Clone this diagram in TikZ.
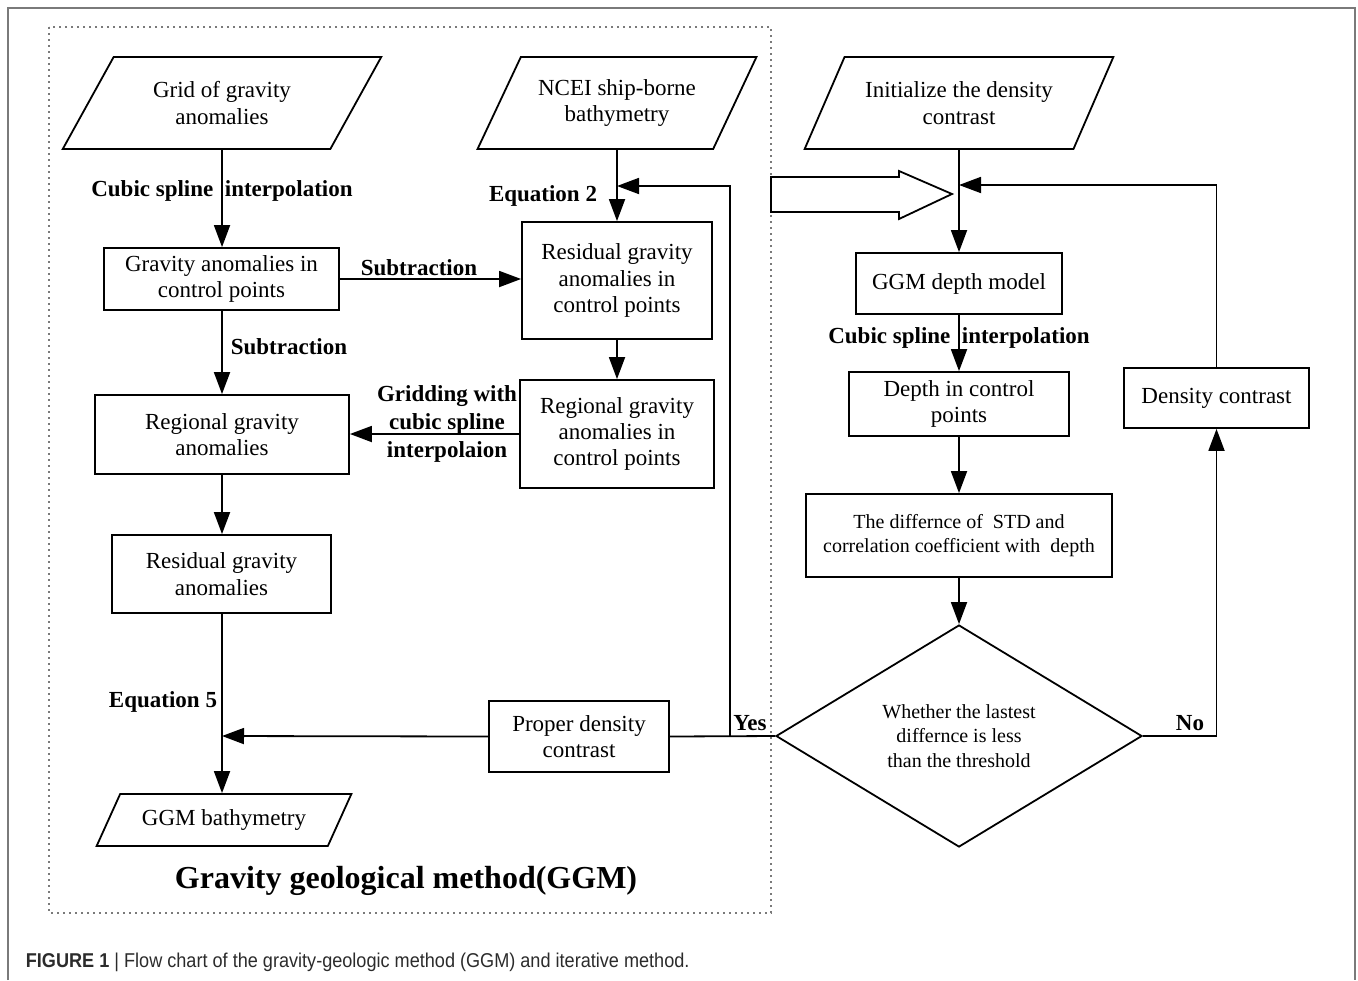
\documentclass[tikz,border=0pt]{standalone}
\usepackage{fontspec}
\setmainfont{Liberation Serif}
\newfontfamily\capfont{Liberation Sans}
\usetikzlibrary{shapes.geometric, arrows.meta}
\definecolor{framegray}{HTML}{7A7A7A}
\definecolor{capgray}{HTML}{2B2B2B}

\begin{document}
\begin{tikzpicture}[
    x=0.5pt, y=-0.5pt,
    >={Triangle[length=11pt,width=8pt]},
    every node/.style={font=\fontsize{11.5}{13.2}\selectfont},
    box/.style={draw, rectangle, align=center, inner sep=2pt},
    data/.style={draw, trapezium, trapezium left angle=56, trapezium right angle=124,
      trapezium stretches=true, align=center, inner sep=2pt},
    lbl/.style={font=\fontsize{11.5}{13.8}\selectfont\bfseries, align=center},
    small/.style={font=\fontsize{10}{12.4}\selectfont},
    line width=0.9pt
  ]
  \useasboundingbox (0,0) rectangle (1358,980);

  % Frame and GGM region
  \draw[framegray, line width=1.1pt] (8,980) -- (8,8) -- (1355,8) -- (1355,980);
  \draw[framegray, dotted, line width=1pt] (49,27) rectangle (771,913);
  \node[font=\fontsize{16}{19}\selectfont\bfseries] (title) at (406,881) {Gravity geological method(GGM)};

  % Inputs
  \node[data, minimum width=159.5pt, minimum height=46pt] (grid) at (222,103) {Grid of gravity\\anomalies};
  \node[data, minimum width=139.5pt, minimum height=46pt] (ncei) at (617,103) {NCEI ship-borne\\bathymetry};
  \node[data, minimum width=154.5pt, minimum height=46pt] (init) at (959,103) {Initialize the density\\contrast};

  % GGM steps
  \node[box, minimum width=117.5pt, minimum height=31pt] (gctrl) at (221.5,279) {Gravity anomalies in\\control points};
  \node[box, minimum width=95pt, minimum height=58.5pt] (rctrl) at (617,280.5) {Residual gravity\\anomalies in\\control points};
  \node[box, minimum width=127pt, minimum height=39.5pt] (regl) at (222,434.5) {Regional gravity\\anomalies};
  \node[box, minimum width=97pt, minimum height=54pt] (regc) at (617,434) {Regional gravity\\anomalies in\\control points};
  \node[box, minimum width=109.5pt, minimum height=39pt] (resid) at (221.5,574) {Residual gravity\\anomalies};
  \node[box, minimum width=90pt, minimum height=35.5pt] (proper) at (579,736.5) {Proper density\\contrast};
  \node[data, minimum width=127.5pt, minimum height=26pt] (ggmb) at (224,820) {GGM bathymetry};

  % Iteration
  \node[box, minimum width=103pt, minimum height=30.5pt] (depthm) at (959,283.5) {GGM depth model};
  \node[box, minimum width=110pt, minimum height=32pt] (depthc) at (959,404) {Depth in control\\points};
  \node[box, small, minimum width=153pt, minimum height=41.5pt] (std) at (959,535.5) {The differnce of\ \ STD and\\correlation coefficient with\ \ depth};
  \node[draw, diamond, small, align=center, minimum width=183pt, minimum height=111pt, inner sep=0pt] (check) at (959,736) {Whether the lastest\\differnce is less\\than the threshold};
  \node[box, minimum width=92.5pt, minimum height=30pt] (dens) at (1216.5,398) {Density contrast};

  % Junctions
  \coordinate (yes) at (730,736);
  \coordinate (j1) at (617,186);
  \coordinate (j2) at (959,185);
  \coordinate (j3) at (222,736);

  % Arrows
  \draw[->] (grid.south) -- (grid.south |- gctrl.north);
  \draw[->] (gctrl.east) -- (gctrl.east -| rctrl.west);
  \draw[->] (gctrl.south -| regl.north) -- (regl.north);
  \draw[->] (ncei.south) -- (rctrl.north);
  \draw[->] (rctrl) -- (regc);
  \draw[->] (regc.west) -- (regc.west -| regl.east);
  \draw[->] (regl) -- (regl |- resid.north);
  \draw[->] (resid.south -| ggmb.north) ++(-2,0) -- ([xshift=-1pt]ggmb.north);
  \draw (check.west) -- (proper.east);
  \draw[->] (yes) |- (j1);
  \draw[->] (proper.west) -- (j3);
  \draw[->] (init.south) -- (depthm.north);
  \draw[->] (depthm) -- (depthc);
  \draw[->] (depthc) -- (std);
  \draw[->] (std.south) -- (check.north);
  \draw[->] (check.east) -| (dens.south);
  \draw[->] (dens.north) |- (j2);

  % Hollow arrow
  \draw (771,177) -- (899,177) -- (899,171) -- (952,194) -- (899,219) -- (899,212) -- (771,212) -- cycle;

  % Labels
  \node[lbl] (l1) at (222,191) {Cubic spline\ \ interpolation};
  \node[lbl] (l2) at (419,268) {Subtraction};
  \node[lbl] (l3) at (289,347) {Subtraction};
  \node[lbl] (l4) at (543,196) {Equation 2};
  \node[lbl] (l5) at (447,424) {Gridding with\\cubic spline\\interpolaion};
  \node[lbl] (l6) at (163,702) {Equation 5};
  \node[lbl] (l7) at (959,338) {Cubic spline\ \ interpolation};
  \node[lbl] (lyes) at (750,723) {Yes};
  \node[lbl] (lno) at (1190,723) {No};

  % Caption
  \node[anchor=west, text=capgray, inner sep=0pt] (cap) at (25,962)
    {\scalebox{0.905}[1]{\capfont\fontsize{10}{12}\selectfont\textbf{FIGURE 1} | Flow chart of the gravity-geologic method (GGM) and iterative method.}};
\end{tikzpicture}
\end{document}
